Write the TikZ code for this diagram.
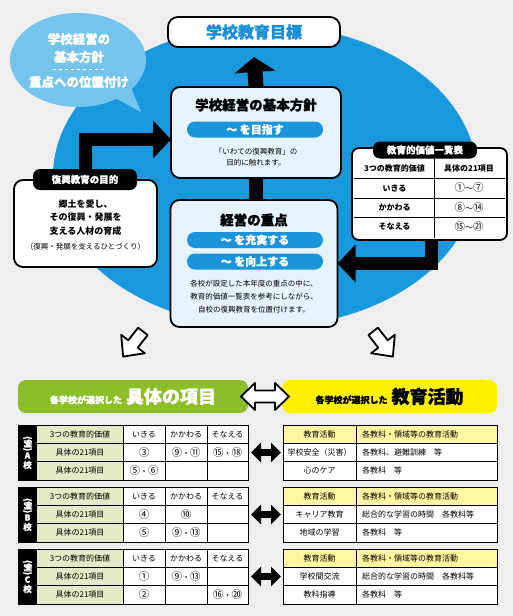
\documentclass[tikz,border=0pt]{standalone}
\usepackage{fontspec}
\setmainfont{Noto Sans CJK JP}
\newfontfamily\heavy{Noto Sans CJK JP}[BoldFeatures={FakeBold=1.2}]
\usetikzlibrary{arrows.meta,calc}
\definecolor{bggray}{HTML}{EEEEEE}
\definecolor{bigblue}{HTML}{1A98DE}
\definecolor{bubble}{HTML}{74C4EE}
\definecolor{pillblue}{HTML}{1A94DA}
\definecolor{lightbox}{HTML}{E6F3FC}
\definecolor{tgreen}{HTML}{8CBE2A}
\definecolor{tyellow}{HTML}{FFF000}
\definecolor{cellgreen}{HTML}{E3EAC6}
\definecolor{cellyellow}{HTML}{FFF4A0}
\definecolor{titleblue}{HTML}{1A8FD8}
\newcommand\cn[1]{{\fontsize{10.5}{10.5}\selectfont #1}}
\tikzset{
  mainbox/.style={draw=black, line width=1.8pt, rounded corners=9pt, fill=lightbox},
  whitebox/.style={draw=black, line width=1.8pt, rounded corners=9pt, fill=white},
  bigarrow/.style={draw=black, line width=13pt, line join=miter, -{Triangle[length=18pt,width=37pt]}},
  bararrow/.style={draw=black, line width=14pt},
  dblarrow/.style={draw=black, line width=7pt, {Triangle[length=10pt,width=19pt]}-{Triangle[length=10pt,width=19pt]}, shorten <=3pt, shorten >=2pt},
  tabbox/.style={fill=black, rounded corners=7pt, text=white, font=\heavy\bfseries\fontsize{9.5}{9.5}\selectfont},
  pillbox/.style={fill=pillblue, rounded corners=8pt, minimum width=136pt, minimum height=16pt, text=white, font=\heavy\bfseries\fontsize{11}{11}\selectfont},
  titletxt/.style={font=\heavy\bfseries\fontsize{13.5}{13.5}\selectfont},
  smalltxt/.style={font=\fontsize{7.5}{11}\selectfont, align=center},
  bubtxt/.style={text=white, font=\heavy\bfseries\fontsize{12.5}{12.5}\selectfont},
  celltxt/.style={font=\fontsize{8}{8}\selectfont},
  boldcell/.style={font=\bfseries\fontsize{8}{8}\selectfont},
  hollow/.style={draw=black, line width=1.8pt, fill=white, line join=round},
  gridline/.style={draw=black, line width=0.6pt},
}
% left table: name, top y, side letter, r2c2, r2c3, r2c4, r3c2, r3c3, r3c4
\newcommand\mkltable[9]{%
  \node[minimum width=230pt, minimum height=55pt, anchor=north west] (#1) at (18,#2) {};
  \fill[white] (#1.north west) rectangle (#1.south east);
  \fill[cellgreen] (37,#2) rectangle (123,#2+55);
  \fill[black] (18,#2) rectangle (37,#2+55);
  \draw[gridline] (37,#2+18.33) -- (248,#2+18.33);
  \draw[gridline] (37,#2+36.67) -- (248,#2+36.67);
  \foreach \xx in {123,165,207} {\draw[gridline] (\xx,#2) -- (\xx,#2+55);}
  \draw[draw=black, line width=1pt] (#1.north west) rectangle (#1.south east);
  \node[text=white, font=\heavy\bfseries\fontsize{8.5}{9.5}\selectfont, align=center] (#1-s) at (27.5,#2+27.5) {\rotatebox{-90}{(例)}\\#3\\校};
  \node[celltxt] (#1-h1) at (80,#2+9.17) {3つの教育的価値};
  \node[celltxt] (#1-h2) at (144,#2+9.17) {いきる};
  \node[celltxt] (#1-h3) at (186,#2+9.17) {かかわる};
  \node[celltxt] (#1-h4) at (227.5,#2+9.17) {そなえる};
  \node[celltxt] (#1-a1) at (80,#2+27.5) {具体の21項目};
  \node[celltxt] (#1-a2) at (144,#2+27.5) {#4};
  \node[celltxt] (#1-a3) at (186,#2+27.5) {#5};
  \node[celltxt] (#1-a4) at (227.5,#2+27.5) {#6};
  \node[celltxt] (#1-b1) at (80,#2+45.83) {具体の21項目};
  \node[celltxt] (#1-b2) at (144,#2+45.83) {#7};
  \node[celltxt] (#1-b3) at (186,#2+45.83) {#8};
  \node[celltxt] (#1-b4) at (227.5,#2+45.83) {#9};
}
% right table: name, top y, r2a, r2b, r3a, r3b
\newcommand\mkrtable[6]{%
  \node[minimum width=214pt, minimum height=55pt, anchor=north west] (#1) at (283,#2) {};
  \fill[white] (#1.north west) rectangle (#1.south east);
  \fill[cellyellow] (283,#2) rectangle (497,#2+18.33);
  \draw[gridline] (283,#2+18.33) -- (497,#2+18.33);
  \draw[gridline] (283,#2+36.67) -- (497,#2+36.67);
  \draw[gridline] (356,#2) -- (356,#2+55);
  \draw[draw=black, line width=1pt] (#1.north west) rectangle (#1.south east);
  \node[celltxt] (#1-h1) at (319.5,#2+9.17) {教育活動};
  \node[celltxt, anchor=west] (#1-h2) at (362,#2+9.17) {各教科・領域等の教育活動};
  \node[celltxt] (#1-a1) at (319.5,#2+27.5) {#3};
  \node[celltxt, anchor=west] (#1-a2) at (362,#2+27.5) {#4};
  \node[celltxt] (#1-b1) at (319.5,#2+45.83) {#5};
  \node[celltxt, anchor=west] (#1-b2) at (362,#2+45.83) {#6};
}
\begin{document}
\begin{tikzpicture}[x=1pt,y=-1pt, every node/.style={inner sep=0pt, outer sep=0pt}]
\fill[bggray] (0,0) rectangle (513,616);
\useasboundingbox (0,0) rectangle (513,616);
\fill[bigblue] (265,176) ellipse [x radius=212, y radius=151];

% speech bubble
\fill[bubble] (78,60) ellipse [x radius=68, y radius=47];
\fill[bubble] (106,93) -- (141,112) -- (128,80) -- cycle;
\node[bubtxt] (bub1) at (79,39) {学校経営の};
\node[bubtxt] (bub2) at (79,57) {基本方針};
\draw[white, dashed, line width=0.6pt] (53,69.5) -- (106,69.5);
\node[bubtxt] (bub3) at (79,82) {重点への位置付け};

% goal
\node[whitebox, rounded corners=10pt, minimum width=172pt, minimum height=30pt, text=titleblue, font=\heavy\bfseries\fontsize{16}{16}\selectfont] (goal) at (254,32) {学校教育目標};

% basic policy
\node[mainbox, minimum width=170pt, minimum height=91pt] (policy) at (256,132.5) {};
\node[titletxt] (policyT) at (256,105) {学校経営の基本方針};
\node[pillbox] (pill1) at (255,129.5) {～ を目指す};
\node[smalltxt] (policyS) at (256,157.5) {「いわての復興教育」の\\目的に触れます。};

% focus
\node[mainbox, minimum width=167pt, minimum height=127pt] (focus) at (254,263.5) {};
\node[titletxt] (focusT) at (254,220) {経営の重点};
\node[pillbox] (pill2) at (255,240) {～ を充実する};
\node[pillbox] (pill3) at (255,261.5) {～ を向上する};
\node[smalltxt, font=\fontsize{7.5}{13}\selectfont] (focusS) at (254,297) {各校が設定した本年度の重点の中に、\\教育的価値一覧表を参考にしながら、\\自校の復興教育を位置付けます。};

% connectors in the circle
\draw[bararrow] (policy.south) -- (policy.south |- focus.north);
\draw[bigarrow, line width=15pt, -{Triangle[length=15pt,width=40pt]}] (policy.north) -- ([yshift=-10pt]goal.south);

% purpose box
\node[whitebox, minimum width=143pt, minimum height=87pt] (purpose) at (85.5,223.5) {};
\node[tabbox, minimum width=104pt, minimum height=21pt] (purposeT) at (85,179.5) {復興教育の目的};
\node[font=\bfseries\fontsize{9}{13.5}\selectfont, align=center] (purposeS) at (85.5,217.5) {郷土を愛し、\\その復興・発展を\\支える人材の育成};
\node[smalltxt] (purposeN) at (85.5,247) {（復興・発展を支えるひとづくり）};
\draw[bigarrow] (purposeT.north) |- ([yshift=-7pt]policy.west);

% value list
\node[whitebox, rounded corners=7pt, minimum width=155pt, minimum height=92pt] (values) at (429.5,194) {};
\draw[gridline] (354,178) -- (505,178);
\draw[gridline] (354,198) -- (505,198);
\draw[gridline] (354,217.5) -- (505,217.5);
\draw[gridline] (434,152) -- (434,238);
\node[tabbox, minimum width=104pt, minimum height=17pt] (valuesT) at (425,150) {教育的価値一覧表};
\node[boldcell] (v11) at (394.5,168) {3つの教育的価値};
\node[boldcell] (v12) at (469,168) {具体の21項目};
\node[boldcell] (v21) at (394.5,188) {いきる};
\node[celltxt] (v22) at (469,188) {\cn{①}～\cn{⑦}};
\node[boldcell] (v31) at (394.5,207.5) {かかわる};
\node[celltxt] (v32) at (469,207.5) {\cn{⑧}～\cn{⑭}};
\node[boldcell] (v41) at (394.5,227) {そなえる};
\node[celltxt] (v42) at (469,227) {\cn{⑮}～\cn{㉑}};
\draw[bigarrow] ([xshift=1.5pt]values.south) |- (focus.east);

% hollow arrows
\begin{scope}[shift={(133,344)}, rotate=-38]
  \draw[hollow] (-6,-16) -- (6,-16) -- (6,0) -- (15,0) -- (0,16) -- (-15,0) -- (-6,0) -- cycle;
\end{scope}
\begin{scope}[shift={(383,344)}, rotate=38]
  \draw[hollow] (-6,-16) -- (6,-16) -- (6,0) -- (15,0) -- (0,16) -- (-15,0) -- (-6,0) -- cycle;
\end{scope}

% banners
\node[fill=tgreen, rounded corners=8pt, minimum width=230pt, minimum height=33pt, text=white, font=\heavy\bfseries] (gb) at (133,396.5) {{\fontsize{9}{9}\selectfont 各学校が選択した}\hspace{4pt}{\fontsize{18}{18}\selectfont 具体の項目}\hspace{12pt}};
\node[fill=tyellow, rounded corners=8pt, minimum width=215pt, minimum height=33pt, text=black, font=\heavy\bfseries] (yb) at (389.5,396.5) {{\fontsize{9}{9}\selectfont 各学校が選択した}\hspace{4pt}{\fontsize{18}{18}\selectfont 教育活動}\hspace{6pt}};
\begin{scope}[shift={($(gb.east)!0.5!(yb.west)$)}]
  \draw[hollow] (-24,0) -- (-10,-13.5) -- (-10,-6) -- (10,-6) -- (10,-13.5) -- (24,0) -- (10,13.5) -- (10,6) -- (-10,6) -- (-10,13.5) -- cycle;
\end{scope}

% tables
\mkltable{tA}{425}{A}{\cn{③}}{\cn{⑨}・\cn{⑪}}{\cn{⑮}・\cn{⑱}}{\cn{⑤}・\cn{⑥}}{}{}
\mkltable{tB}{487}{B}{\cn{④}}{\cn{⑩}}{}{\cn{⑤}}{\cn{⑨}・\cn{⑬}}{}
\mkltable{tC}{549}{C}{\cn{①}}{\cn{⑨}・\cn{⑬}}{}{\cn{②}}{}{\cn{⑯}・\cn{⑳}}
\mkrtable{rA}{425}{学校安全（災害）}{各教科、避難訓練　等}{心のケア}{各教科　等}
\mkrtable{rB}{487}{キャリア教育}{総合的な学習の時間　各教科等}{地域の学習}{各教科　等}
\mkrtable{rC}{549}{学校間交流}{総合的な学習の時間　各教科等}{教科指導}{各教科　等}
\draw[dblarrow] (tA.east) -- (rA.west);
\draw[dblarrow] (tB.east) -- (rB.west);
\draw[dblarrow] (tC.east) -- (rC.west);
\end{tikzpicture}
\end{document}
